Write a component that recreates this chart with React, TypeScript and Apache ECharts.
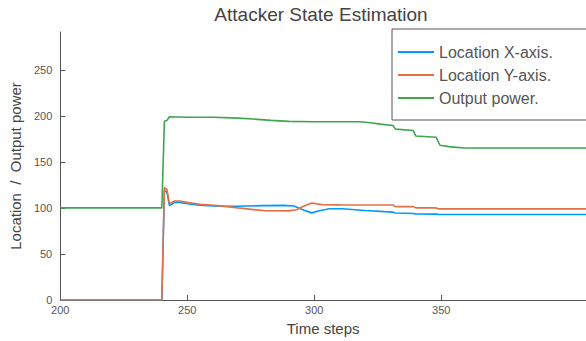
import React, { useEffect, useRef } from "react";
import * as echarts from "echarts";

const titleText = "Attacker State Estimation";
const seriesNames = ["Location X-axis.", "Location Y-axis.", "Output power."];
const seriesColors = ["#009AFA", "#E36F47", "#3EA44E"];

const xTicks = [200, 250, 300, 350];
const yTicks = [0, 50, 100, 150, 200, 250];

const blueT = [200, 240, 241, 242, 243, 244, 245, 247, 250, 255, 262, 270, 280, 288, 292, 296, 299, 302, 306, 311, 320, 331, 332, 339, 340, 348, 349, 407];
const blueV = [0, 0, 119, 117, 102.5, 104, 106, 106, 104.5, 103, 101.8, 101.8, 102.5, 102.7, 102, 97.5, 94.6, 97, 99, 99, 97.1, 95.4, 94.5, 94, 93.5, 93.2, 92.8, 92.8];

const redT = [200, 240, 241, 242, 243, 244, 245, 247, 250, 255, 262, 270, 280, 290, 293, 296, 299, 303, 310, 331, 332, 339, 340, 348, 349, 407];
const redV = [0, 0, 122, 120, 104.5, 106, 107.5, 107.5, 106, 104, 102.5, 100, 97, 96.8, 98, 102, 105.4, 103.6, 103.3, 103.2, 101.4, 101.4, 100, 100, 98.9, 98.9];

const greenT = [200, 240, 241, 242, 243, 250, 260, 270, 276, 283, 290, 300, 318, 322, 326, 331, 332, 339, 340, 348, 349.5, 353, 359, 407];
const greenV = [100, 100, 194, 195, 199, 198.5, 198.5, 197.5, 196.5, 195, 194, 193.5, 193.5, 192.5, 191, 189.5, 185.5, 184, 178, 176.8, 168, 166.5, 165, 165];

const pairs = (t: number[], v: number[]) => t.map((x, i) => [x, v[i]]);

const FONT = "Liberation Sans";

export default function App() {
  const ref = useRef<HTMLDivElement>(null);
  useEffect(() => {
    if (!ref.current) return;
    document.body.style.margin = "0";
    const chart = echarts.init(ref.current, undefined, { renderer: "svg" });
    const dataSets = [pairs(blueT, blueV), pairs(redT, redV), pairs(greenT, greenV)];
    chart.setOption({
      animation: false,
      backgroundColor: "#ffffff",
      textStyle: { fontFamily: FONT },
      title: {
        text: titleText,
        left: 321,
        top: 5,
        padding: 0,
        textAlign: "center",
        textStyle: { fontFamily: FONT, fontSize: 19, fontWeight: "normal", color: "#444444" },
      },
      legend: {
        orient: "vertical",
        left: 392,
        top: 29,
        padding: [15, 60, 14, 6],
        borderColor: "#555555",
        borderWidth: 1,
        backgroundColor: "#ffffff",
        icon: "rect",
        itemWidth: 36,
        itemHeight: 2,
        itemGap: 7,
        data: seriesNames,
        textStyle: { fontFamily: FONT, fontSize: 16, color: "#555555", lineHeight: 16 },
      },
      grid: { left: 57, right: 0, top: 32, bottom: 39, containLabel: false },
      xAxis: {
        type: "value",
        min: 200,
        max: 407,
        name: "Time steps",
        nameLocation: "middle",
        nameGap: 21,
        nameTextStyle: { fontFamily: FONT, fontSize: 15, color: "#444444" },
        axisLine: { show: true, lineStyle: { color: "#555555", width: 1 } },
        axisTick: { show: true, inside: true, length: 5, customValues: xTicks, lineStyle: { color: "#555555" } },
        axisLabel: { customValues: xTicks, margin: 4, fontSize: 11, color: "#555555", fontFamily: FONT },
        splitLine: { show: false },
      },
      yAxis: {
        type: "value",
        min: 0,
        max: 291,
        name: "Location  /  Output power",
        nameLocation: "middle",
        nameGap: 31,
        nameTextStyle: { fontFamily: FONT, fontSize: 15, color: "#444444" },
        axisLine: { show: true, lineStyle: { color: "#555555", width: 1 } },
        axisTick: { show: true, inside: true, length: 5, customValues: yTicks, lineStyle: { color: "#555555" } },
        axisLabel: { customValues: yTicks, margin: 8, fontSize: 11, color: "#555555", fontFamily: FONT },
        splitLine: { show: false },
      },
      series: seriesNames.map((name, i) => ({
        name,
        type: "line",
        data: dataSets[i],
        showSymbol: false,
        symbol: "none",
        color: seriesColors[i],
        lineStyle: { color: seriesColors[i], width: 1.6 },
        z: 2 + i,
      })),
    });
    return () => chart.dispose();
  }, []);
  return <div ref={ref} style={{ width: 586, height: 341 }} />;
}
